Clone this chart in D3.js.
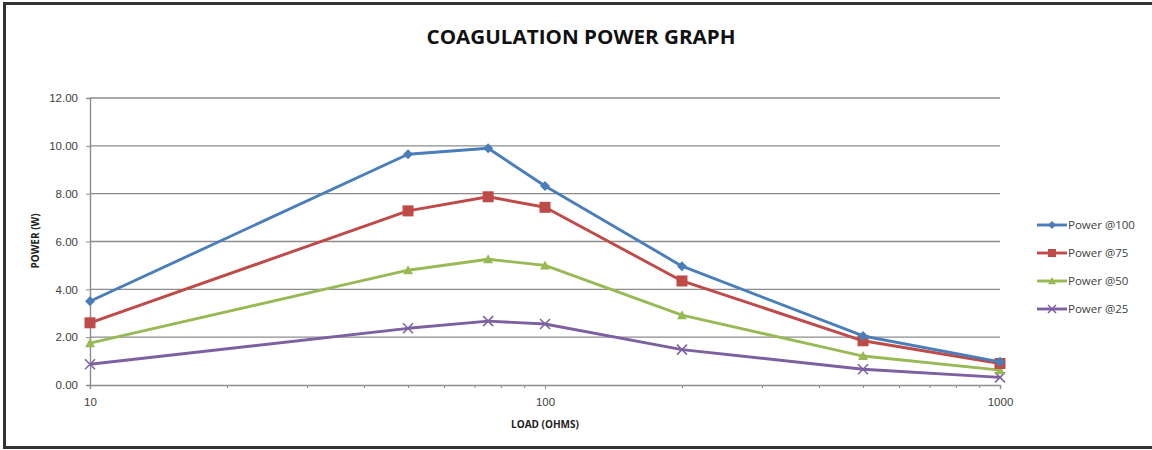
<!DOCTYPE html>
<html>
<head>
<meta charset="utf-8">
<script src="https://cdn.jsdelivr.net/npm/d3@7"></script>
<style>
body { margin: 0; background: #fff; }
svg { display: block; font-family: "Open Sans", "DejaVu Sans", sans-serif; }
</style>
</head>
<body>
<div id="chart"></div>
<script>
// load values (ohms) and measured power (W)
var loads = [10, 50, 75, 100, 200, 500, 1000];
var power100 = [3.5, 9.65, 9.9, 8.32, 4.97, 2.05, 0.97];
var power75 = [2.6, 7.28, 7.87, 7.43, 4.35, 1.85, 0.9];
var power50 = [1.75, 4.8, 5.26, 5.0, 2.92, 1.21, 0.62];
var power25 = [0.87, 2.37, 2.67, 2.55, 1.48, 0.66, 0.32];
var seriesNames = ["Power @100", "Power @75", "Power @50", "Power @25"];
var yTicks = [0, 2, 4, 6, 8, 10, 12];
var xTicks = [10, 100, 1000];

var W = 1152, H = 450;
// note: "top" is taken by window.top, so use plot* names
var plotLeft = 90, plotRight = 1000, plotTop = 98, plotBottom = 385;

var series = [
    { name: seriesNames[0], values: power100, color: "#4a7ebb", marker: "diamond" },
    { name: seriesNames[1], values: power75, color: "#be4b48", marker: "square" },
    { name: seriesNames[2], values: power50, color: "#98b954", marker: "triangle" },
    { name: seriesNames[3], values: power25, color: "#7d60a0", marker: "x" }
];

var svg = d3.select("#chart").append("svg").attr("width", W).attr("height", H);

// outer frame (right side is cut off in the original)
svg.append("rect").attr("x", 4.5).attr("y", 3.5).attr("width", W + 10).attr("height", 444)
    .attr("fill", "#fff").attr("stroke", "#333").attr("stroke-width", 3);

var x = d3.scaleLog().domain([10, 1000]).range([plotLeft, plotRight]);
var y = d3.scaleLinear().domain([0, 12]).range([plotBottom, plotTop]);

// gridlines
svg.append("g").selectAll("line").data(yTicks.slice(1)).enter().append("line")
    .attr("x1", plotLeft).attr("x2", plotRight)
    .attr("y1", function(d) { return y(d); }).attr("y2", function(d) { return y(d); })
    .attr("stroke", "#8c8c8c").attr("stroke-width", 1.4);

// y axis
var yAxis = svg.append("g").attr("transform", "translate(" + plotLeft + ",0)")
    .call(d3.axisLeft(y).tickValues(yTicks).tickSize(4).tickPadding(8).tickFormat(d3.format(".2f")));
yAxis.select(".domain").attr("stroke", "#8c8c8c").attr("stroke-width", 1.4);
yAxis.selectAll(".tick line").attr("stroke", "#8c8c8c");
yAxis.selectAll("text").attr("font-size", 11.5).attr("fill", "#404040");

// x axis with minor log ticks
var minor = [];
[10, 100].forEach(function(b) { for (var k = 2; k <= 9; k++) minor.push(b * k); });
var xAxisMinor = svg.append("g").attr("transform", "translate(0," + plotBottom + ")")
    .call(d3.axisBottom(x).tickValues(minor).tickSize(3).tickFormat(""));
xAxisMinor.select(".domain").remove();
xAxisMinor.selectAll(".tick line").attr("stroke", "#8c8c8c");
var xAxis = svg.append("g").attr("transform", "translate(0," + plotBottom + ")")
    .call(d3.axisBottom(x).tickValues(xTicks).tickSize(4).tickPadding(9).tickFormat(d3.format("d")));
xAxis.select(".domain").attr("stroke", "#8c8c8c").attr("stroke-width", 1.4);
xAxis.selectAll(".tick line").attr("stroke", "#8c8c8c");
xAxis.selectAll("text").attr("font-size", 11.5).attr("fill", "#404040");

// title and axis titles
svg.append("text").attr("x", 581).attr("y", 44).attr("text-anchor", "middle")
    .attr("font-size", 20).attr("font-weight", "bold").attr("fill", "#111")
    .attr("textLength", 309).attr("lengthAdjust", "spacingAndGlyphs")
    .text("COAGULATION POWER GRAPH");
svg.append("text").attr("x", 545).attr("y", 428).attr("text-anchor", "middle")
    .attr("font-size", 10).attr("font-weight", "bold").attr("fill", "#222")
    .text("LOAD (OHMS)");
svg.append("text").attr("transform", "translate(39,241) rotate(-90)").attr("text-anchor", "middle")
    .attr("font-size", 10).attr("font-weight", "bold").attr("fill", "#222")
    .text("POWER (W)");

function drawMarker(sel, type, color, s) {
    if (type == "diamond") {
        sel.append("path").attr("d", "M0," + (-s) + "L" + s + ",0L0," + s + "L" + (-s) + ",0Z").attr("fill", color);
    } else if (type == "square") {
        sel.append("rect").attr("x", -s).attr("y", -s).attr("width", 2 * s).attr("height", 2 * s).attr("fill", color);
    } else if (type == "triangle") {
        sel.append("path").attr("d", "M0," + (-s) + "L" + s + "," + (s * 0.8) + "L" + (-s) + "," + (s * 0.8) + "Z").attr("fill", color);
    } else {
        sel.append("path").attr("d", "M" + (-s) + "," + (-s) + "L" + s + "," + s + "M" + s + "," + (-s) + "L" + (-s) + "," + s)
            .attr("stroke", color).attr("stroke-width", 1.5).attr("fill", "none");
    }
}

var line = d3.line().x(function(d, i) { return x(loads[i]); }).y(function(d) { return y(d); });

series.slice().reverse().forEach(function(s) {
    svg.append("path").datum(s.values).attr("d", line)
        .attr("fill", "none").attr("stroke", s.color).attr("stroke-width", 2.9).attr("stroke-linejoin", "round");
    var size = s.marker == "square" ? 5.5 : 5;
    s.values.forEach(function(v, i) {
        var g = svg.append("g").attr("transform", "translate(" + x(loads[i]) + "," + y(v) + ")");
        drawMarker(g, s.marker, s.color, size);
    });
});

// legend
var legend = svg.append("g").attr("transform", "translate(1037,225)");
series.forEach(function(s, i) {
    var g = legend.append("g").attr("transform", "translate(0," + (i * 28) + ")");
    g.append("line").attr("x1", 0).attr("x2", 30).attr("stroke", s.color).attr("stroke-width", 2.9);
    var m = g.append("g").attr("transform", "translate(15,0)");
    drawMarker(m, s.marker, s.color, 4);
    g.append("text").attr("x", 31).attr("y", 4).attr("font-size", 11.5).attr("fill", "#404040").text(s.name);
});
</script>
</body>
</html>
